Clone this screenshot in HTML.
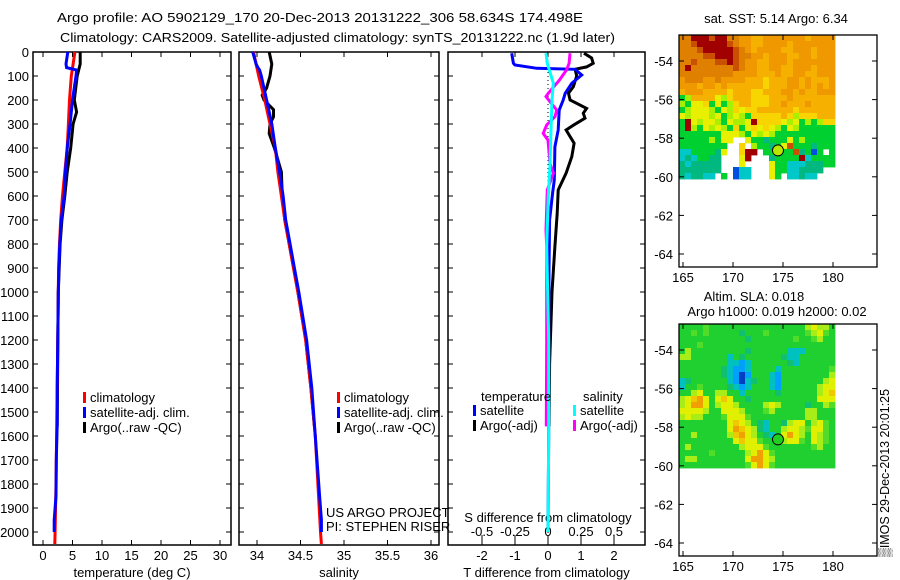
<!DOCTYPE html>
<html><head><meta charset="utf-8"><style>
html,body{margin:0;padding:0;background:#fff;}
svg{display:block;font-family:"Liberation Sans",sans-serif;}
text{fill:#000;font-size:13px;}
</style></head><body>
<svg id="chart" width="900" height="580" viewBox="0 0 900 580">
<text x="57" y="22" textLength="526" lengthAdjust="spacingAndGlyphs" font-size="14">Argo profile: AO 5902129_170 20-Dec-2013 20131222_306 58.634S 174.498E</text>
<text x="60" y="42" textLength="555" lengthAdjust="spacingAndGlyphs" font-size="14">Climatology: CARS2009. Satellite-adjusted climatology: synTS_20131222.nc (1.9d later)</text>
<g id="g1"></g>
<g id="g2"></g>
<g id="g3"></g>
<g id="m1"></g>
<g id="m2"></g>
<text transform="translate(889,557) rotate(-90)" font-size="13" textLength="168" lengthAdjust="spacingAndGlyphs">▒IMOS 29-Dec-2013 20:01:25</text>
</svg>
<script>
// ---- data ----
const depthTicks = [0,100,200,300,400,500,600,700,800,900,1000,1100,1200,1300,1400,1500,1600,1700,1800,1900,2000];
const tempTicks = [0,5,10,15,20,25,30];
const salTicks = [34,34.5,35,35.5,36];
const salTickLabels = ["34","34.5","35","35.5","36"];
const dtTicks = [-2,-1,0,1,2];
const dsTicks = [-0.5,-0.25,0,0.25,0.5];
const dsTickLabels = ["-0.5","-0.25","0","0.25","0.5"];

const climDepth = [0,100,200,300,400,500,600,700,800,900,1000,1200,1400,1600,1800,2000,2050];
const climT = [5.4,4.8,4.5,4.3,4.1,3.7,3.3,3.0,2.8,2.65,2.6,2.5,2.4,2.3,2.2,2.05,2.0];
const climS = [33.96,34.02,34.09,34.15,34.21,34.24,34.28,34.32,34.37,34.42,34.47,34.56,34.62,34.67,34.70,34.73,34.74];
const satDepth = [0,50,65,75,100,200,300,400,500,600,700,800,900,1000,1200,1400,1550,1700,1850,1950,2000];
const satT = [4.2,3.9,4.0,5.7,5.6,5.0,4.6,4.1,3.8,3.6,3.1,2.85,2.7,2.6,2.5,2.4,2.4,2.25,2.2,1.9,1.9];
const satS = [33.95,33.99,34.01,34.03,34.05,34.11,34.17,34.21,34.26,34.30,34.33,34.38,34.43,34.48,34.57,34.63,34.66,34.69,34.72,34.74,34.74];
const argoTDepth = [0,50,100,200,250,300,400,500,600,700,800,1000,1200,1400,1560];
const argoT = [6.3,6.3,5.8,5.3,5.7,5.1,4.7,4.1,3.7,3.2,2.9,2.6,2.5,2.45,2.4];
const argoSDepth = [0,50,100,150,180,200,240,270,300,340,400,500,600,700,800,1000,1200,1400,1560];
const argoS = [34.14,34.17,34.15,34.11,34.06,34.08,34.19,34.19,34.15,34.14,34.2,34.28,34.29,34.32,34.37,34.47,34.56,34.62,34.66];

const dtSatDepth = [5,47,54,68,72,96,130,172,200,242,325,395,533,588,700,900,1200,1600,2000];
const dtSat = [-1.1,-1.05,-1.0,-0.34,0.82,1.02,0.72,0.52,0.46,0.34,0.31,0.21,0.19,0.14,0.05,0.03,0.02,0.02,0.0];
const dtArgoDepth = [5,25,47,62,72,100,144,172,200,235,255,276,305,325,380,436,505,575,672,811,1000,1300,1560];
const dtArgo = [1.09,1.32,1.37,1.17,0.82,0.87,0.77,0.62,0.67,1.17,1.07,1.12,0.77,0.55,0.79,0.72,0.55,0.31,0.28,0.21,0.12,0.05,0.03];
const dsSatDepth = [5,47,130,200,325,470,600,811,1200,1600,2000];
const dsSat = [-0.015,-0.005,0.04,0.03,0.023,0.015,0.002,-0.01,0.005,0.005,0.0];
const dsArgoDepth = [5,47,75,117,172,186,207,242,269,304,339,367,464,505,575,742,811,1200,1560];
const dsArgo = [0.167,0.16,0.14,0.086,0.002,-0.015,0.015,0.066,0.053,-0.01,-0.036,0.0,0.015,0.04,-0.005,-0.015,-0.01,-0.01,-0.013];

const lonTicks = [165,170,175,180];
const latTicks = [-54,-56,-58,-60,-62,-64];
const argoLon = 174.498, argoLat = -58.634;
const sstRows = [
"OORRRrRROOooaaoooooooaoooo","OOrRRRRRrOooaaooooaooooooo","OOOrRRRRRrOoaooooaaoooaooo","OOOOrrRRRrOOooaoooaaooaooo",
"OOrOOOrrRrOooaaoooaooooooo","OROOOOOOOrOooaaooaaoooaooo","OOOOOOOOOooooaaaoaaooaaooo","oOOOooOooooaaayaaaooaoaaao",
"oooaooaoaaaaaayaaaooaoaoao","aoooaaaayaaayyaaaooaoaaooo","GgaaaaYgyaaayyyaaaoaaaaaaa","gGYYyGYGgyaayyyaaoaaaoaaaa",
"GgYYYgGYgyYyyaaaaaayaaaaaa","YgYYYgYGgYgGyyyyyaygyyyaaa","GRYgYYgGYggYRyyyyYgYGgGgyy","GRgGYgYgGyGYyYyYgGYgGGGGGG",
"GGGGGGGYYYgGYgYgGGGGGGGGGG","GGGGGgGYY..YGGtGGGYGgGGGGG","GGGGGGGG..y.gGGtGYrGGGtGGG","ccGGGGtY..yRR.GGGGGrtGbG.G",
"ctcGGtt...YR...tGGGGRcGGGG","tcttttt...Y....YGGccctttGG","ttttttt..bcc...YGGcctttt..","tcttcc.G.bcc...YG.cctcc..."];
const slaRows = [
"GGGGgGGGGGGGGGGGGGGGGyYyyG","GGgGgGGGGGtGGGgGGGGGGgyYgG","GGGGGGGGGGGtGGGGGGGgGGgyGG","GGGgGGGGGGGGGGGGGGGGGGGGGG",
"GyGGGGGGGGGtGGGGGGcccGGGGG","yyGGGGGGcGtGGGGGGtccGGGGGG","GGGGGGGGccbcGGGGGGtcGGGGGG","GGGGGGGtcbbcGGGGcGGGGGGGGg",
"GGGGGGGtcbBbGGGcbGGGGGGGGy","ctGGGGGGcbBctGGcbGGGGGGGyY","cGGgGGGGtcbcGGGcbGGGGGGyYY","GGyYGGyyGGcGGGGGtGGGGGGyYo",
"yYoOYGYoYGGtGGGGGGGGGGGYYY","yYOOYGyYYyGGGGyYyGGGGtGGyg","YYYYyGGYYYyGGGgyGGGGGyyGGG","yYyyGGGgYYYgGGGGGGGGGyyGGG",
"GGGGGGGGYoYyGtcGGtyYYGyYgG","GGGGGGGGYOoYytcGGyYYygYYgG","GGyGGGGGyoOYyGtcGYOYyGYygG","GGGGGGGGGYoYYgGGGyYYgGYygG",
"GyGGGGGGGGyYYYgGGGGGGGgyGG","GGGGGgGGGGGyYOYgGGGGGGGGGG","GyyGGGGGGGGYOOYyGGGGGGGGGG","GGGGGGGGGGGgYOYgGGGGGGGGGG"];

const NS="http://www.w3.org/2000/svg";
function mk(parent,tag,attrs,txt){const e=document.createElementNS(NS,tag);for(const k in attrs)e.setAttribute(k,attrs[k]);if(txt!==undefined)e.textContent=txt;parent.appendChild(e);return e;}
const TOP=52, BOT=545;
const yD = d => TOP + d*0.24;

function panel(g,x0,x1,xs,ticks,labels,title,showY){
  const fr=mk(g,'rect',{x:x0,y:TOP,width:x1-x0,height:BOT-TOP,fill:'none',stroke:'#000','stroke-width':1.5});
  
  
  depthTicks.forEach(d=>{
    const y=yD(d);
    mk(g,'line',{x1:x0,x2:x0+5,y1:y,y2:y,stroke:'#000'});
    mk(g,'line',{x1:x1-5,x2:x1,y1:y,y2:y,stroke:'#000'});
    if(showY){const t=mk(g,'text',{x:29,y:y+5,'text-anchor':'end'},String(d));
      
      }
  });
  ticks.forEach((v,i)=>{
    const x=xs(v);
    mk(g,'line',{x1:x,x2:x,y1:TOP,y2:TOP+5,stroke:'#000'});
    mk(g,'line',{x1:x,x2:x,y1:BOT-5,y2:BOT,stroke:'#000'});
    const t=mk(g,'text',{x:x,y:560,'text-anchor':'middle'},labels[i]);
    
    
  });
  const tt=mk(g,'text',{x:(x0+x1)/2,y:577,'text-anchor':'middle'},title);
  
  
}
function line(g,depths,vals,xs,color,name){
  const pts=depths.map((d,i)=>xs(vals[i]).toFixed(1)+','+yD(d).toFixed(1)).join(' ');
  const p=mk(g,'polyline',{points:pts,fill:'none',stroke:color,'stroke-width':3,'stroke-linejoin':'miter'});
  
  
}
function legend(g,x,y,items){
  items.forEach((it,i)=>{
    mk(g,'rect',{x:x,y:y+i*15-10,width:3,height:11,fill:it[1]});
    const t=mk(g,'text',{x:x+7,y:y+i*15},it[0]);
    
    
  });
}
// Panel 1
const g1=document.getElementById('g1');
const xT=v=>43+5.9*v;
panel(g1,33,231,xT,tempTicks,tempTicks.map(String),'temperature (deg C)',true);
line(g1,argoTDepth,argoT,xT,'#000','argo-temperature-line');
line(g1,climDepth,climT,xT,'#f00','climatology-temperature-line');
line(g1,satDepth,satT,xT,'#0000ff','satellite-temperature-line');
legend(g1,83,402,[['climatology','#f00'],['satellite-adj. clim.','#00f'],['Argo(..raw -QC)','#000']]);
// Panel 2
const g2=document.getElementById('g2');
const xS=v=>257+87*(v-34);
panel(g2,239,439,xS,salTicks,salTickLabels,'salinity',false);
line(g2,argoSDepth,argoS,xS,'#000','argo-salinity-line');
line(g2,climDepth,climS,xS,'#f00','climatology-salinity-line');
line(g2,satDepth,satS,xS,'#0000ff','satellite-salinity-line');
legend(g2,337,402,[['climatology','#f00'],['satellite-adj. clim.','#00f'],['Argo(..raw -QC)','#000']]);
let t=mk(g2,'text',{x:326,y:517},'US ARGO PROJECT');


t=mk(g2,'text',{x:326,y:531},'PI: STEPHEN RISER');


// Panel 3
const g3=document.getElementById('g3');
const xDT=v=>548+33*v, xDS=v=>548+132*v;
panel(g3,448,645,xDT,dtTicks,dtTicks.map(String),'T difference from climatology',false);
mk(g3,'line',{x1:548,x2:548,y1:TOP,y2:BOT,stroke:'#000','stroke-dasharray':'1,3'});
dsTicks.forEach((v,i)=>{const x=xDS(v);mk(g3,'line',{x1:x,x2:x,y1:BOT-10,y2:BOT,stroke:'#000'});
  const tl=mk(g3,'text',{x:x,y:536,'text-anchor':'middle'},dsTickLabels[i]);
  
  });
t=mk(g3,'text',{x:548,y:522,'text-anchor':'middle'},'S difference from climatology');


line(g3,dtArgoDepth,dtArgo,xDT,'#000','argo-temp-diff-line');
line(g3,dtSatDepth,dtSat,xDT,'#0000ff','satellite-temp-diff-line');
line(g3,dsArgoDepth,dsArgo,xDS,'#ff00ff','argo-sal-diff-line');
line(g3,dsSatDepth,dsSat,xDS,'#00ffff','satellite-sal-diff-line');
t=mk(g3,'text',{x:481,y:401},'temperature');


t=mk(g3,'text',{x:583,y:401},'salinity');


legend(g3,473,415,[['satellite','#00f'],['Argo(-adj)','#000']]);
legend(g3,573,415,[['satellite','#00ffff'],['Argo(-adj)','#ff00ff']]);

// Maps
const sstColors={R:'#a00000',r:'#c85000',O:'#e08000',o:'#f09800',a:'#f5b000',y:'#f8d400',Y:'#e8f000',g:'#a8f000',G:'#00d030',t:'#00b880',c:'#00c8c8',b:'#0050e0'};
const slaColors={G:'#20d030',g:'#50dc28',y:'#a8ec18',Y:'#e0f000',o:'#f0c800',O:'#f0a000',c:'#00c0c0',b:'#00a0ff',B:'#0040c0',t:'#10c070'};
function map(g,top,rows,colors,dotColor,titles){
  const x0=679,x1=877,bot=top+232;
  const lx=lon=>683+10*(lon-165), ly=lat=>top+26+19.3*(-54-lat);
  const cw=156/26, ch=144/24;
  rows.forEach((row,r)=>{[...row].forEach((c,k)=>{
    if(c==='.')return;
    mk(g,'rect',{x:(x0+k*cw).toFixed(2),y:(top+r*ch).toFixed(2),width:(cw+0.4).toFixed(2),height:(ch+0.4).toFixed(2),fill:colors[c]});
  });});
  const fr=mk(g,'rect',{x:x0,y:top,width:x1-x0,height:bot-top,fill:'none',stroke:'#000','stroke-width':1.3});
  
  
  lonTicks.forEach(v=>{const x=lx(v);
    mk(g,'line',{x1:x,x2:x,y1:top,y2:top+5,stroke:'#000'});mk(g,'line',{x1:x,x2:x,y1:bot-5,y2:bot,stroke:'#000'});
    const tl=mk(g,'text',{x:x,y:bot+15,'text-anchor':'middle'},String(v));
    
    });
  latTicks.forEach(v=>{const y=ly(v);
    mk(g,'line',{x1:x0,x2:x0+5,y1:y,y2:y,stroke:'#000'});mk(g,'line',{x1:x1-5,x2:x1,y1:y,y2:y,stroke:'#000'});
    const tl=mk(g,'text',{x:673,y:y+5,'text-anchor':'end'},String(v));
    
    });
  const c=mk(g,'circle',{cx:lx(argoLon),cy:ly(argoLat),r:5.5,fill:dotColor,stroke:'#000','stroke-width':1});
  
  
  titles.forEach(tt=>{const e=mk(g,'text',{x:tt[1],y:tt[2],'text-anchor':'middle'},tt[0]);
    
    });
}
map(document.getElementById('m1'),35,sstRows,sstColors,'#b8e800',[['sat. SST: 5.14  Argo: 6.34',776,23]]);
map(document.getElementById('m2'),324,slaRows,slaColors,'#20d020',[['Altim. SLA: 0.018',754,301],['Argo h1000: 0.019 h2000: 0.02',777,316]]);
</script>
</body></html>
